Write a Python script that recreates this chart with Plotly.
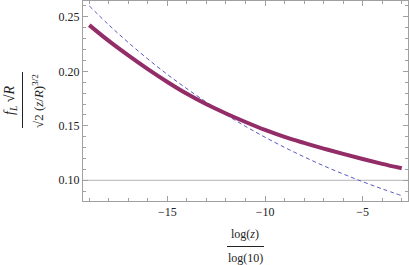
import plotly.graph_objects as go

x_vals = [-19, -18, -17, -16, -15, -14, -13, -12, -11, -10, -9, -8, -7, -6, -5, -4, -3]
solid_vals = [0.2424, 0.2279, 0.2146, 0.2020, 0.1902, 0.1793, 0.1697, 0.1613, 0.1535,
              0.1462, 0.1398, 0.1343, 0.1291, 0.1242, 0.1195, 0.1151, 0.1110]
dashed_vals = [0.2600, 0.2426, 0.2264, 0.2113, 0.1971, 0.1840, 0.1717, 0.1602, 0.1495,
               0.1395, 0.1302, 0.1215, 0.1133, 0.1058, 0.0987, 0.0921, 0.0859]
x_ticks = [-15, -10, -5]
y_ticks = [0.10, 0.15, 0.20, 0.25]
ref_level = 0.10

FONT = "Liberation Serif"
FRAME = "#a0a0a0"
W, H = 409, 265
L, R, T, B = 83, 1, 1, 64
pw, ph = W - L - R, H - T - B


def px2paper(px, py):
    return (px - L) / pw, (H - B - py) / ph


fig = go.Figure()
fig.add_trace(go.Scatter(x=[-19.32, -2.68], y=[ref_level, ref_level], mode="lines",
                         line=dict(color="#b4b4b4", width=1), hoverinfo="skip"))
fig.add_trace(go.Scatter(x=x_vals, y=dashed_vals, mode="lines", line_shape="spline",
                         line=dict(color="#5858c4", width=1, dash="4px,3px")))
fig.add_trace(go.Scatter(x=x_vals, y=solid_vals, mode="lines", line_shape="spline",
                         line=dict(color="#922d68", width=4)))

axis_common = dict(showgrid=False, zeroline=False, showline=True, linecolor=FRAME,
                   linewidth=1, mirror="allticks", ticks="inside", tickcolor=FRAME,
                   ticklen=5, tickwidth=1, automargin=False,
                   tickfont=dict(family=FONT, size=12, color="#222"))
fig.update_xaxes(range=[-19.32, -2.68], tickvals=x_ticks,
                 minor=dict(dtick=1, tick0=0, ticks="inside", ticklen=3, tickcolor=FRAME),
                 **axis_common)
fig.update_yaxes(range=[0.0810, 0.2645], tickvals=y_ticks, tickformat=".2f",
                 minor=dict(dtick=0.01, tick0=0, ticks="inside", ticklen=3, tickcolor=FRAME),
                 **axis_common)


def ann(text, px, py, angle=0, size=12):
    xp, yp = px2paper(px, py)
    fig.add_annotation(text=text, x=xp, y=yp, xref="paper", yref="paper",
                       xanchor="center", yanchor="middle", showarrow=False,
                       textangle=angle, font=dict(family=FONT, size=size, color="#222"))


def seg(px0, py0, px1, py1):
    a0, b0 = px2paper(px0, py0)
    a1, b1 = px2paper(px1, py1)
    fig.add_shape(type="line", xref="paper", yref="paper", x0=a0, x1=a1, y0=b0, y1=b1,
                  line=dict(color="#222", width=1))


# x title fraction
ann("log(<i>z</i>)", 245, 234)
seg(227, 246.5, 264, 246.5)
ann("log(10)", 245, 257.5)

# y title fraction (rotated)
ann("<i>f</i><sub><i>L</i></sub> √<i>R</i>", 10, 100, -90, 14)
seg(22.5, 72, 22.5, 128)
ann("√2 (<i>z</i>/<i>R</i>)<sup>3/2</sup>", 38, 101, -90, 13)

fig.update_layout(
    width=W, height=H,
    margin=dict(l=L, r=R, t=T, b=B),
    paper_bgcolor="white", plot_bgcolor="white",
    font=dict(family=FONT, size=12, color="#222"),
    showlegend=False,
)

fig.write_html("out.html", config={"displayModeBar": False},
               post_script="document.body.style.margin='0';document.body.style.overflow='hidden';")
